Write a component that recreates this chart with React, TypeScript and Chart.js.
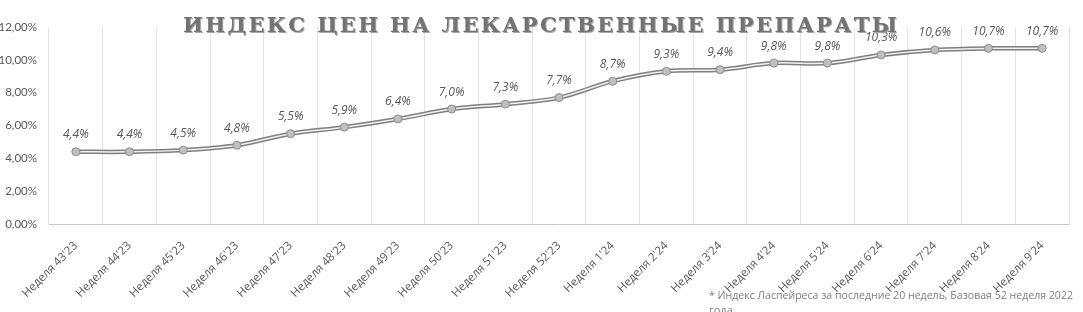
import React, { useEffect, useRef } from "react";
import { Chart, registerables } from "chart.js";

Chart.register(...registerables);

const categories = [
  "Неделя 43'23", "Неделя 44'23", "Неделя 45'23", "Неделя 46'23", "Неделя 47'23",
  "Неделя 48'23", "Неделя 49'23", "Неделя 50'23", "Неделя 51'23", "Неделя 52'23",
  "Неделя 1'24", "Неделя 2'24", "Неделя 3'24", "Неделя 4'24", "Неделя 5'24",
  "Неделя 6'24", "Неделя 7'24", "Неделя 8'24", "Неделя 9'24",
];
const priceIndex = [4.4, 4.4, 4.5, 4.8, 5.5, 5.9, 6.4, 7.0, 7.3, 7.7, 8.7, 9.3, 9.4, 9.8, 9.8, 10.3, 10.6, 10.7, 10.7];
const yTicks = [0, 2, 4, 6, 8, 10, 12];
const titleText = "ИНДЕКС ЦЕН НА ЛЕКАРСТВЕННЫЕ ПРЕПАРАТЫ";
const footLine1 = "* Индекс Ласпейреса за последние 20 недель, Базовая 52 неделя 2022";
const footLine2 = "года";

const fmt = (v: number, d: number) => v.toFixed(d).replace(".", ",");

const decorPlugin = {
  id: "decor",
  afterDatasetsDraw(chart: any) {
    const ctx = chart.ctx as CanvasRenderingContext2D;
    const meta = chart.getDatasetMeta(0);
    ctx.save();
    ctx.font = "italic 12px 'Open Sans'";
    ctx.fillStyle = "#595959";
    ctx.textAlign = "center";
    ctx.textBaseline = "middle";
    meta.data.forEach((pt: any, i: number) => {
      ctx.fillText(fmt(priceIndex[i], 1) + "%", pt.x, pt.y - 17);
    });
    ctx.restore();
  },
  afterDraw(chart: any) {
    const ctx = chart.ctx as CanvasRenderingContext2D;
    ctx.save();
    // title
    ctx.font = "bold 21px 'DejaVu Serif'";
    (ctx as any).letterSpacing = "0px";
    const w = ctx.measureText(titleText).width;
    const target = 714;
    const sp = (target - w) / (titleText.length - 1);
    (ctx as any).letterSpacing = sp + "px";
    ctx.textAlign = "left";
    ctx.textBaseline = "alphabetic";
    ctx.fillStyle = "#a6a6a6";
    ctx.fillText(titleText, 184, 33);
    ctx.fillStyle = "#737373";
    ctx.fillText(titleText, 183, 32);
    (ctx as any).letterSpacing = "0px";
    // footnote
    ctx.font = "11px 'Open Sans'";
    ctx.fillStyle = "#7f7f7f";
    ctx.textBaseline = "middle";
    ctx.fillText(footLine1, 709, 296, 364);
    ctx.fillText(footLine2, 709, 311);
    ctx.restore();
  },
};

export default function App() {
  const ref = useRef<HTMLCanvasElement>(null);
  useEffect(() => {
    document.body.style.margin = "0";
    const chart = new Chart(ref.current!, {
      type: "line",
      data: {
        labels: categories,
        datasets: [
          {
            data: priceIndex,
            borderColor: "#f2f2f2",
            borderWidth: 1.5,
            tension: 0.35,
            pointRadius: 4,
            pointBackgroundColor: "#bfbfbf",
            pointBorderColor: "#8c8c8c",
            pointBorderWidth: 1,
            order: 1,
          },
          {
            data: priceIndex,
            borderColor: "#7f7f7f",
            borderWidth: 4.5,
            tension: 0.35,
            pointRadius: 0,
            order: 2,
          },
        ],
      },
      options: {
        animation: false,
        responsive: false,
        layout: { padding: { top: 27, right: 14, left: 0, bottom: 0 } },
        plugins: { legend: { display: false }, tooltip: { enabled: false }, title: { display: false } },
        scales: {
          x: {
            offset: true,
            grid: { display: true, offset: true, color: "#e3e3e3", drawTicks: false },
            border: { display: true, color: "#c8c8c8" },
            ticks: {
              color: "#595959",
              font: { family: "'Open Sans'", size: 11.5 },
              maxRotation: 45,
              minRotation: 45,
              autoSkip: false,
              padding: 15,
            },
            afterFit: (s: any) => { s.height = 88; },
          },
          y: {
            min: 0,
            max: 12,
            grid: { display: false, drawTicks: false },
            border: { display: false },
            afterBuildTicks: (s: any) => { s.ticks = yTicks.map((v) => ({ value: v })); },
            ticks: {
              color: "#595959",
              font: { family: "Lato", size: 11.5 },
              padding: 12,
              callback: (v: any) => fmt(Number(v), 2) + "%",
            },
            afterFit: (s: any) => { s.width = 49; },
          },
        },
      },
      plugins: [decorPlugin],
    });
    return () => chart.destroy();
  }, []);
  return (
    <div style={{ position: "absolute", left: 0, top: 0, width: 1083, height: 312, background: "#fff" }}>
      <canvas ref={ref} width={1083} height={312} style={{ width: 1083, height: 312 }} />
    </div>
  );
}
